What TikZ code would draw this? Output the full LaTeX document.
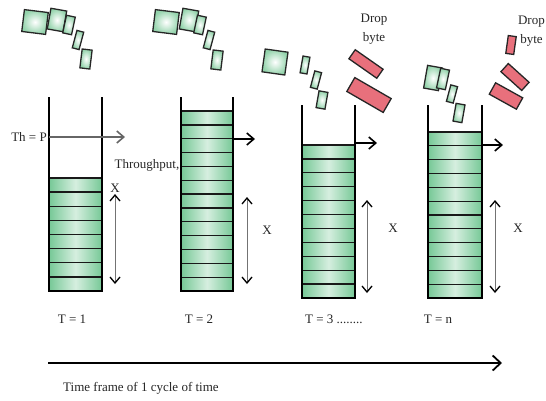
\documentclass[tikz,border=0pt]{standalone}
\usepackage{fontspec}
\setmainfont{Liberation Serif}
\usepackage{tikz}
\usetikzlibrary{arrows.meta}

\definecolor{pktgreen}{RGB}{120,200,150}
\definecolor{slicegreen}{RGB}{118,200,150}
\definecolor{pktred}{RGB}{232,112,124}

\begin{document}
\begin{tikzpicture}[
        x=1pt, y=-1pt,
        lbl/.style    = {font=\fontsize{13}{19}\selectfont, text=black!85, inner sep=0pt},
        pkt/.style    = {draw=black!85, line width=1.3pt, inner sep=0pt, inner color=white, outer color=pktgreen!80},
        lostpkt/.style= {draw=black!85, line width=1.3pt, inner sep=0pt, fill=pktred},
        slice/.style  = {draw=black!90, line width=1.3pt, left color=slicegreen, right color=slicegreen, middle color=slicegreen!30},
        bucket/.style = {draw=black, line width=2.4pt, line join=miter},
        thru/.style   = {line width=1.6pt, -{Straight Barb[length=7pt, width=12pt, line width=1.6pt]}},
        span/.style   = {draw=black!55, line width=0.8pt, {Straight Barb[length=6pt, width=10pt, line width=1.3pt, color=black]}-{Straight Barb[length=6pt, width=10pt, line width=1.3pt, color=black]}},
        timeline/.style = {line width=1.8pt, -{Straight Barb[length=8pt, width=15pt, line width=1.8pt]}},
    ]
    \useasboundingbox (0,0) rectangle (546,400);

    % filled slices of each buffer: left/right wall, fill top, bottom, count
    \foreach \xl/\xr/\yt/\yb/\n in {49/102/178/291/8, 181/233/111/291/13, 302/355/145/298/11, 428/482/132/298/12} {
        \pgfmathsetmacro\h{(\yb-\yt)/\n}
        \foreach \k in {1,...,\n}
            \draw[slice] (\xl,{\yt+(\k-1)*\h}) rectangle (\xr,{\yt+\k*\h});
    }

    % buffer walls
    \draw[bucket] (49,97) |- (102,291) -- (102,97);
    \draw[bucket] (181,97) |- (233,291) -- (233,97);
    \draw[bucket] (302,105) |- (355,298) -- (355,105);
    \draw[bucket] (428,105) |- (482,298) -- (482,105);

    % incoming packets, T = 1
    \node[pkt, minimum width=24, minimum height=22, rotate=-7]  (a1) at (35,22) {};
    \node[pkt, minimum width=16, minimum height=21, rotate=-10] (a2) at (57,20) {};
    \node[pkt, minimum width=9,  minimum height=18, rotate=-12] (a3) at (69,25) {};
    \node[pkt, minimum width=7,  minimum height=18, rotate=-15] (a4) at (78,40) {};
    \node[pkt, minimum width=10, minimum height=19, rotate=-7]  (a5) at (86,59) {};

    % incoming packets, T = 2
    \node[pkt, minimum width=24, minimum height=22, rotate=-7]  (b1) at (166,22) {};
    \node[pkt, minimum width=16, minimum height=21, rotate=-10] (b2) at (189,20) {};
    \node[pkt, minimum width=9,  minimum height=18, rotate=-12] (b3) at (200,25) {};
    \node[pkt, minimum width=7,  minimum height=18, rotate=-15] (b4) at (209,40) {};
    \node[pkt, minimum width=10, minimum height=19, rotate=-7]  (b5) at (217,60) {};

    % incoming packets, T = 3
    \node[pkt, minimum width=23, minimum height=23, rotate=-8]  (c1) at (275,62) {};
    \node[pkt, minimum width=7,  minimum height=17, rotate=-10] (c2) at (305,65) {};
    \node[pkt, minimum width=7,  minimum height=17, rotate=-15] (c3) at (316,80) {};
    \node[pkt, minimum width=9,  minimum height=17, rotate=-10] (c4) at (322,100) {};
    \node[lostpkt, minimum width=34, minimum height=11, rotate=-35] (c5) at (366,64) {};
    \node[lostpkt, minimum width=42, minimum height=16, rotate=-30] (c6) at (369,95) {};
    \node[lbl, align=center] (drop3) at (374,29) {Drop\\byte};

    % incoming packets, T = n
    \node[pkt, minimum width=15, minimum height=23, rotate=-10] (d1) at (433,78) {};
    \node[pkt, minimum width=9,  minimum height=20, rotate=-12] (d2) at (443,79) {};
    \node[pkt, minimum width=7,  minimum height=17, rotate=-15] (d3) at (452,94) {};
    \node[pkt, minimum width=9,  minimum height=18, rotate=-10] (d4) at (459,113) {};
    \node[lostpkt, minimum width=8,  minimum height=18, rotate=-8]  (d5) at (511,45) {};
    \node[lostpkt, minimum width=28, minimum height=11, rotate=-42] (d6) at (515,77) {};
    \node[lostpkt, minimum width=31, minimum height=13, rotate=-29] (d7) at (506,96) {};
    \node[lbl, align=center, anchor=east] (dropn) at (545,31) {Drop\\byte};

    % throughput level
    \node[lbl, anchor=east] (thp) at (47,137) {Th = P};
    \coordinate (p1s) at (49,137);  \coordinate (p1e) at (125,137);
    \coordinate (p2s) at (233,139); \coordinate (p2e) at (255,139);
    \coordinate (p3s) at (355,143); \coordinate (p3e) at (377,143);
    \coordinate (p4s) at (482,145); \coordinate (p4e) at (503,145);
    \draw[thru, draw=black!60] (p1s) -- (p1e);
    \draw[thru] (p2s) -- (p2e);
    \draw[thru] (p3s) -- (p3e);
    \draw[thru] (p4s) -- (p4e);
    \node[lbl] (thr) at (147,165) {Throughput,};

    % queue depth X
    \coordinate (h1a) at (115,194); \coordinate (h1b) at (115,284);
    \coordinate (h2a) at (247,197); \coordinate (h2b) at (247,284);
    \coordinate (h3a) at (367,200); \coordinate (h3b) at (367,293);
    \coordinate (h4a) at (495,200); \coordinate (h4b) at (495,293);
    \draw[span] (h1a) -- (h1b);
    \draw[span] (h2a) -- (h2b);
    \draw[span] (h3a) -- (h3b);
    \draw[span] (h4a) -- (h4b);
    \node[lbl] (x1) at (115,188) {X};
    \node[lbl] (x2) at (267,230) {X};
    \node[lbl] (x3) at (393,228) {X};
    \node[lbl] (x4) at (518,228) {X};

    % time steps
    \node[lbl] (t1) at (72,319) {T = 1};
    \node[lbl] (t2) at (199,319) {T = 2};
    \node[lbl, anchor=west] (t3) at (305,319) {T = 3 ........};
    \node[lbl] (tn) at (438,319) {T = n};

    \coordinate (tl0) at (48,363);
    \coordinate (tl1) at (502,363);
    \draw[timeline] (tl0) -- (tl1);
    \node[lbl, anchor=west] (tf) at (63,388) {Time frame of 1 cycle of time};
\end{tikzpicture}
\end{document}
